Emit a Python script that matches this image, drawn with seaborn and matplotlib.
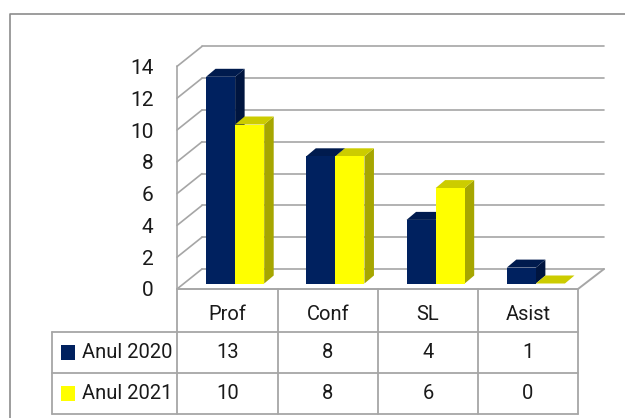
import matplotlib
matplotlib.use("Agg")
import matplotlib.pyplot as plt
from matplotlib.patches import Polygon
from matplotlib.lines import Line2D
from matplotlib.patches import Rectangle
import pandas as pd
import seaborn as sns

categories = ["Prof", "Conf", "SL", "Asist"]
series_names = ["Anul 2020", "Anul 2021"]
values_2020 = [13, 8, 4, 1]
values_2021 = [10, 8, 6, 0]
y_ticks = [0, 2, 4, 6, 8, 10, 12, 14]

W, H = 625, 418
FONT = "Roboto"
TXT = "#1a1a1a"
GRID = "#a6a6a6"
front_cols = ["#00215f", "#ffff00"]
top_cols = ["#001b4e", "#cccc00"]
side_cols = ["#00153f", "#a6a600"]

sns.set_theme(style="white")
plt.rcParams["font.family"] = [FONT, "DejaVu Sans"]

fig = plt.figure(figsize=(W / 100, H / 100), dpi=100, facecolor="white")


def rect(l, t, r, b):
    return [l / W, 1 - b / H, (r - l) / W, (b - t) / H]


# overlay in pixel coordinates for walls and data table
bg = fig.add_axes([0, 0, 1, 1], zorder=0)
bg.set_xlim(0, W)
bg.set_ylim(H, 0)
bg.axis("off")

# outer frame
bg.add_line(Line2D([10, 10, 625], [418, 14, 14], color="#8c8c8c", lw=1.2))

# walls
UNIT = 15.9
FL, FR, BL, BR = 177, 578, 202, 604
F0, B0 = 289, 269
for v in y_ticks:
    yf, yb = F0 - v * UNIT, B0 - v * UNIT
    bg.add_line(Line2D([FL, BL], [yf, yb], color=GRID, lw=1.2))
    bg.add_line(Line2D([BL, BR], [yb, yb], color=GRID, lw=1.2))
bg.add_line(Line2D([FL, FL], [F0, F0 - 14 * UNIT], color=GRID, lw=1.2))
bg.add_line(Line2D([FL, FR, BR], [F0, F0, B0], color=GRID, lw=1.4))

# value axis labels, on an axes spanning the front plane
frame = fig.add_axes(rect(FL, F0 - 14 * UNIT, FR, F0), zorder=1)
frame.patch.set_alpha(0)
frame.set_ylim(0, 14)
frame.set_xticks([])
frame.set_yticks(y_ticks)
frame.set_yticklabels([str(v) for v in y_ticks], fontsize=15, color=TXT)
frame.tick_params(axis="y", length=0, pad=17)
sns.despine(ax=frame, left=True, bottom=True)

# bars
BASE = 283.5
ax = fig.add_axes(rect(185, BASE - 15 * UNIT, 586, BASE), zorder=2)
ax.patch.set_alpha(0)
df = pd.DataFrame({
    "cat": categories * 2,
    "series": [series_names[0]] * 4 + [series_names[1]] * 4,
    "val": values_2020 + values_2021,
})
sns.barplot(data=df, x="cat", y="val", hue="series", hue_order=series_names,
            palette=front_cols, width=0.58, gap=0, saturation=1, legend=False,
            dodge=True, ax=ax, linewidth=0, zorder=5)
ax.set_xlim(-0.5, 3.5)
ax.set_ylim(0, 15)
ax.axis("off")

DX = 9.5 / (401 / 4)
DY = 8 / UNIT
for c, cont in enumerate(ax.containers):
    for p in cont.patches:
        x0, w, h = p.get_x(), p.get_width(), p.get_height()
        x1 = x0 + w
        ax.add_patch(Polygon([(x1, 0), (x1 + DX, DY), (x1 + DX, h + DY), (x1, h)],
                             fc=side_cols[c], ec="none", zorder=3 + 3 * c))
        ax.add_patch(Polygon([(x0, h), (x0 + DX, h + DY), (x1 + DX, h + DY), (x1, h)],
                             fc=top_cols[c], ec="none", zorder=3.5 + 3 * c))
        p.set_zorder(4 + 3 * c)

# data table
top = fig.add_axes([0, 0, 1, 1], zorder=3)
top.set_xlim(0, W)
top.set_ylim(H, 0)
top.axis("off")
cols = [177, 277.5, 378, 478, 578]
rows = [289, 332, 373, 414]
LEFT = 52
for x in cols:
    top.add_line(Line2D([x, x], [rows[0], rows[-1]], color=GRID, lw=1.3))
top.add_line(Line2D([LEFT, LEFT], [rows[1], rows[-1]], color=GRID, lw=1.3))
for y in rows[1:]:
    top.add_line(Line2D([LEFT, cols[-1]], [y, y], color=GRID, lw=1.3))


def centers(i):
    return (cols[i] + cols[i + 1]) / 2


for i, cat in enumerate(categories):
    top.text(centers(i), 315, cat, ha="center", va="center", fontsize=14.5, color=TXT)
table = [values_2020, values_2021]
for r, (name, vals) in enumerate(zip(series_names, table)):
    yc = (rows[r + 1] + rows[r + 2]) / 2
    top.add_patch(Rectangle((61, yc - 8), 14, 15.5, fc=front_cols[r], ec="none"))
    top.text(82, yc, name, ha="left", va="center", fontsize=14.5, color=TXT)
    for i, v in enumerate(vals):
        top.text(centers(i), yc, str(v), ha="center", va="center", fontsize=14.5, color=TXT)

fig.savefig("out.png", dpi=100, facecolor="white")
